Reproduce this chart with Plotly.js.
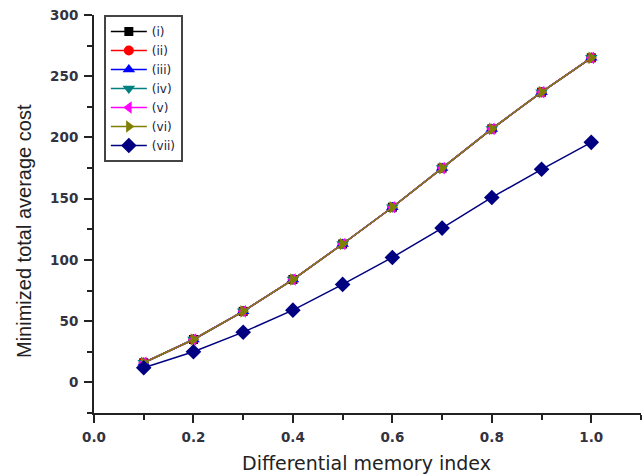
<!DOCTYPE html>
<html>
<head>
<meta charset="utf-8">
<script src="https://cdn.plot.ly/plotly-3.0.1.min.js"></script>
<style>html,body{margin:0;padding:0;background:#fff;}#chart{width:644px;height:476px;}</style>
</head>
<body>
<div id="chart"></div>
<script>
const xValues = [0.1, 0.2, 0.3, 0.4, 0.5, 0.6, 0.7, 0.8, 0.9, 1.0];
const seriesNames = ['(i)', '(ii)', '(iii)', '(iv)', '(v)', '(vi)', '(vii)'];
const yI   = [16, 35, 58, 84, 113, 143, 175, 207, 237, 265];
const yII  = [16, 35, 58, 84, 113, 143, 175, 207, 237, 265];
const yIII = [16, 35, 58, 84, 113, 143, 175, 207, 237, 265];
const yIV  = [16, 35, 58, 84, 113, 143, 175, 207, 237, 265];
const yV   = [16, 35, 58, 84, 113, 143, 175, 207, 237, 265];
const yVI  = [16, 35, 58, 84, 113, 143, 175, 207, 237, 265];
const yVII = [12, 25, 41, 59, 80, 102, 126, 151, 174, 196];
const xTickLabels = ['0.0', '0.2', '0.4', '0.6', '0.8', '1.0'];
const xTickVals = [0, 0.2, 0.4, 0.6, 0.8, 1.0];
const yTickVals = [0, 50, 100, 150, 200, 250, 300];
const xTitle = 'Differential memory index';
const yTitle = 'Minimized total average cost';

const ySeries = [yI, yII, yIII, yIV, yV, yVI, yVII];
const colors = ['#000000', '#ff0000', '#0000ff', '#008080', '#ff00ff', '#808000', '#000080'];
const symbols = ['square', 'circle', 'triangle-up', 'triangle-down', 'triangle-left', 'triangle-right', 'diamond'];
const sizes = [9, 10, 11, 11, 11, 11, 12];

const traces = ySeries.map((ys, i) => ({
  x: xValues, y: ys, name: seriesNames[i], type: 'scatter', mode: 'lines+markers',
  line: {color: colors[i], width: 1.5},
  marker: {color: colors[i], symbol: symbols[i], size: sizes[i]}
}));

const tickFont = {family: 'DejaVu Sans, sans-serif', size: 13.5, color: '#33333f', weight: 'bold'};
const layout = {
  width: 644, height: 476,
  margin: {l: 94, r: 3, t: 15, b: 63, pad: 0},
  paper_bgcolor: '#fff', plot_bgcolor: '#fff',
  showlegend: true,
  legend: {
    x: 0.018, y: 1, xanchor: 'left', yanchor: 'top',
    bordercolor: '#444', borderwidth: 2, bgcolor: '#fff',
    font: {family: 'DejaVu Sans, sans-serif', size: 12, color: '#1a1a3a'},
    tracegroupgap: 0, itemwidth: 36
  },
  xaxis: {
    range: [0, 1.1], showgrid: false, zeroline: false,
    showline: true, linecolor: '#222', linewidth: 2,
    ticks: 'outside', ticklen: 8, tickwidth: 2, tickcolor: '#222',
    tickvals: xTickVals, ticktext: xTickLabels, tickfont: tickFont, ticklabelstandoff: 3,
    minor: {dtick: 0.1, ticks: 'outside', ticklen: 5, tickwidth: 2, tickcolor: '#222', showgrid: false}
  },
  yaxis: {
    range: [-25, 300], showgrid: false, zeroline: false,
    showline: true, linecolor: '#222', linewidth: 2,
    ticks: 'outside', ticklen: 8, tickwidth: 2, tickcolor: '#222',
    tickvals: yTickVals, tickfont: tickFont, ticklabelstandoff: 3,
    minor: {dtick: 25, ticks: 'outside', ticklen: 5, tickwidth: 2, tickcolor: '#222', showgrid: false}
  },
  annotations: [
    {text: xTitle, xref: 'paper', yref: 'paper', x: 0.499, y: (413 - 463) / 398, xanchor: 'center', yanchor: 'middle',
     showarrow: false, font: {family: 'DejaVu Sans, sans-serif', size: 19, color: '#222'}},
    {text: yTitle, xref: 'paper', yref: 'paper', x: (24 - 94) / 547, y: (413 - 231) / 398, xanchor: 'center', yanchor: 'middle',
     textangle: -90, showarrow: false, font: {family: 'Liberation Sans, Arial, sans-serif', size: 20, color: '#222'}}
  ]
};

Plotly.newPlot('chart', traces, layout, {displayModeBar: false, staticPlot: true});
</script>
</body>
</html>
